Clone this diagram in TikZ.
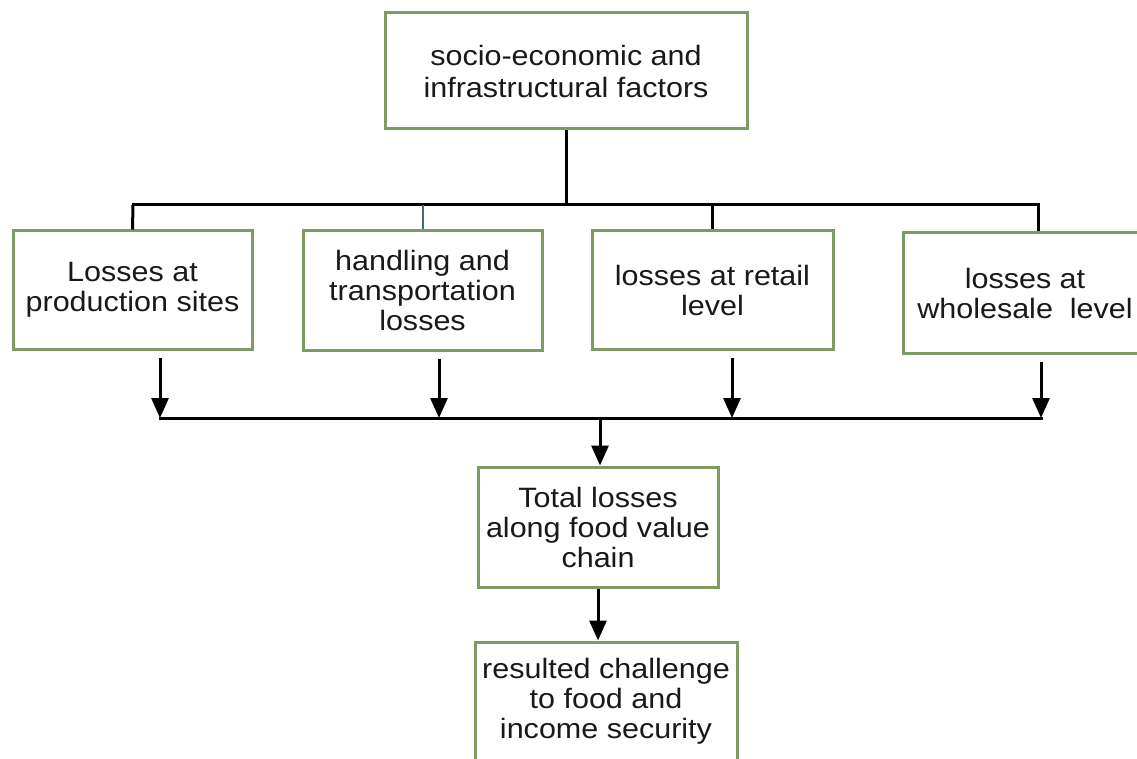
\documentclass[tikz,border=0pt]{standalone}
\usepackage{fontspec}
\setmainfont{Liberation Sans}[FakeStretch=1.09]
\usetikzlibrary{arrows.meta}
\definecolor{boxgreen}{RGB}{126,156,98}
\definecolor{dropblue}{RGB}{70,105,130}
\begin{document}
\begin{tikzpicture}[x=1pt,y=-1pt,
  box/.style={draw=boxgreen, line width=3pt, fill=white, rectangle, inner sep=0pt,
    align=center, font=\fontsize{28pt}{30pt}\selectfont, text=black!90},
  conn/.style={draw=black, line width=3pt},
  arr/.style={conn, -{Triangle[length=20pt,width=17pt]}}]
\useasboundingbox (0,0) rectangle (1137,759);
\fill[white] (0,0) rectangle (1137,759);
% nodes
\node[box, minimum width=362pt, minimum height=116pt, font=\fontsize{28pt}{32pt}\selectfont] (top) at (566,71) {socio-economic and\\infrastructural factors};
\node[box, minimum width=239pt, minimum height=118pt] (b1) at (132.5,290) {Losses at\\production sites};
\node[box, minimum width=239pt, minimum height=119pt] (b2) at (422.5,290.5) {handling and\\transportation\\losses};
\node[box, minimum width=241pt, minimum height=118pt] (b3) at (712.5,290) {losses at retail\\level};
\node[box, minimum width=244pt, minimum height=120pt] (b4) at (1025,293) {losses at\\wholesale\ \ level};
\node[box, minimum width=240pt, minimum height=120pt] (b5) at (598,527) {Total losses\\along food value\\chain};
\node[box, minimum width=262pt, minimum height=118pt] (b6) at (606,701) {resulted challenge\\to food and\\income security};
% top distribution
\coordinate (tb) at (566,205);
\coordinate (tl) at (133,205);
\coordinate (tr) at (1038,205);
\draw[conn] (top.south) -- (tb);
\draw[conn, line cap=rect] (tl) -- (tr);
\draw[conn] (tl) -- (b1.north);
\draw[draw=dropblue, line width=2pt] (b2.north |- tl) -- (b2.north);
\draw[conn] (b3.north |- tl) -- (b3.north);
\draw[conn] (tr) -- (tr |- b4.north);
% bottom collection
\coordinate (l1) at (160,418);
\coordinate (l2) at (439,418);
\coordinate (l3) at (732,418);
\coordinate (l4) at (1041,418);
\draw[conn, line cap=rect] (l1) -- (l4);
\draw[arr, shorten <=7pt] (b1.south -| l1) -- (l1);
\draw[arr, shorten <=7pt] (b2.south -| l2) -- (l2);
\draw[arr, shorten <=7pt] (b3.south -| l3) -- (l3);
\draw[arr, shorten <=7pt] (b4.south -| l4) -- (l4);
\coordinate (lm) at (600,418);
\draw[arr] (lm) -- (lm |- b5.north);
\draw[arr] (b5.south) -- (b5.south |- b6.north);
\end{tikzpicture}
\end{document}
